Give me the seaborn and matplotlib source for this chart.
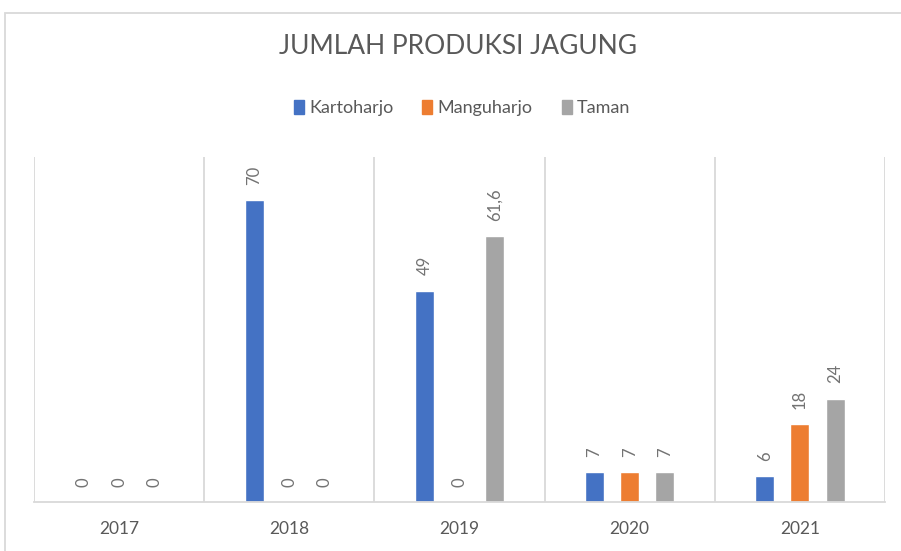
import matplotlib
matplotlib.use("Agg")
import matplotlib.pyplot as plt
from matplotlib.patches import Rectangle
import seaborn as sns
import pandas as pd

# data
years = ["2017", "2018", "2019", "2020", "2021"]
kartoharjo = [0, 70, 49, 7, 6]
manguharjo = [0, 0, 0, 7, 18]
taman = [0, 0, 61.6, 7, 24]
series_names = ["Kartoharjo", "Manguharjo", "Taman"]
colors = ["#4472C4", "#ED7D31", "#A5A5A5"]

df = pd.DataFrame({
    "Tahun": years * 3,
    "Desa": [n for n in series_names for _ in years],
    "Produksi": kartoharjo + manguharjo + taman,
})

sns.set_style("white")
plt.rcParams["font.family"] = ["Lato", "DejaVu Sans"]

fig = plt.figure(figsize=(9.01, 5.51), dpi=100)
ax = fig.add_axes([34 / 901, 1 - 502 / 551, 851 / 901, 345 / 551])

sns.barplot(data=df, x="Tahun", y="Produksi", hue="Desa", palette=colors,
            width=0.62, gap=0.46, ax=ax, legend=False, saturation=1)

for cont in ax.containers:
    labels = [f"{b.get_height():g}".replace(".", ",") for b in cont]
    ax.bar_label(cont, labels=labels, rotation=90, padding=11,
                 fontsize=12, color="#737373")

ax.set_ylim(0, 80)
ax.set_xlim(-0.5, 4.5)
ax.set_yticks([])
ax.set_xlabel("")
ax.set_ylabel("")
for i in range(len(years) + 1):
    ax.axvline(i - 0.5, color="#d9d9d9", lw=1.3, zorder=0)
for s in ["top", "right", "left"]:
    ax.spines[s].set_visible(False)
ax.spines["bottom"].set_color("#d9d9d9")
ax.spines["bottom"].set_linewidth(1.3)
ax.tick_params(axis="x", length=0, pad=14, labelsize=12.5, labelcolor="#595959")

fig.text(0.508, 1 - 46 / 551, "JUMLAH PRODUKSI JAGUNG", ha="center", va="center",
         fontsize=19, color="#595959")

handles = [Rectangle((0, 0), 1, 1, color=c) for c in colors]
fig.legend(handles, series_names, loc="center", bbox_to_anchor=(0.513, 1 - 108 / 551),
           ncol=3, frameon=False, fontsize=13, labelcolor="#595959",
           handlelength=0.55, handleheight=0.85, handletextpad=0.3, columnspacing=1.6)

# chart area border (partly outside the crop)
fig.patches.append(Rectangle((5 / 901, -0.2), 2, 1.2 - 13 / 551, transform=fig.transFigure,
                             fill=False, edgecolor="#d9d9d9", lw=1.3))

fig.savefig("out.png", dpi=100)
